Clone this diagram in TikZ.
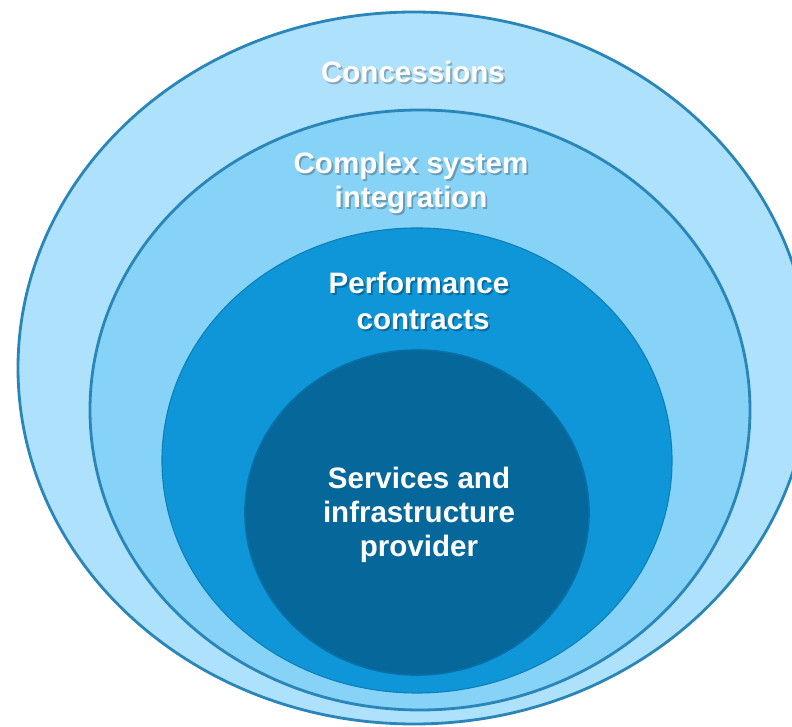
\documentclass[tikz,border=0pt]{standalone}
\usepackage{fontspec}
\setmainfont{Liberation Sans}
\usetikzlibrary{calc}

\definecolor{ringA}{HTML}{AEE1FB}
\definecolor{ringB}{HTML}{86D3F7}
\definecolor{ringC}{HTML}{0F96D9}
\definecolor{ringD}{HTML}{06679A}
\definecolor{ringline}{HTML}{2A86B9}
\definecolor{shA}{HTML}{86A9BC}
\definecolor{shB}{HTML}{6A9CB6}
\definecolor{shC}{HTML}{0B6A9C}

% shadowed line of text
\newcommand\shline[2]{\makebox[0pt][l]{\hspace{1.3pt}\raisebox{-1.3pt}{\color{#1}#2}}#2}

\begin{document}
\begin{tikzpicture}[x=0.025cm,y=-0.025cm,
        ringtext/.style={text=white, align=center, inner sep=0pt,
            font=\fontsize{21}{24}\selectfont\bfseries}]
        % rahmen
        \useasboundingbox (0,0) rectangle (792,727);
        \clip (0,0) rectangle (792,727);

        % die vier ringe
        \coordinate (cA) at (414,368);
        \coordinate (cB) at (420,410);
        \coordinate (cC) at (417,460.5);
        \coordinate (cD) at (417,512.5);
        \draw [fill=ringA, draw=ringline, line width=2pt]
            (cA) ellipse [x radius=396, y radius=356];
        \draw [fill=ringB, draw=ringline, line width=2pt]
            (cB) ellipse [x radius=330, y radius=300];
        \draw [fill=ringC, draw=ringC!85!black, line width=0.8pt]
            (cC) ellipse [x radius=255, y radius=232.5];
        \draw [fill=ringD, draw=ringD!80!ringC, line width=1.2pt]
            (cD) ellipse [x radius=172, y radius=162.5];

        % beschriftung
        \node [ringtext] (concessions) at (413,73)
            {\shline{shA}{Concessions}};
        \node [ringtext] (integration) at (411,184)
            {\shline{shB}{Complex system}\\\shline{shB}{integration}};
        \node [ringtext, font=\fontsize{21}{26}\selectfont\bfseries]
            (performance) at (419,302)
            {\shline{shC}{Performance}\\\shline{shC}{\ contracts}};
        \node [ringtext] (provider) at (419,515)
            {Services and\\infrastructure\\provider};

    \end{tikzpicture}
\end{document}
